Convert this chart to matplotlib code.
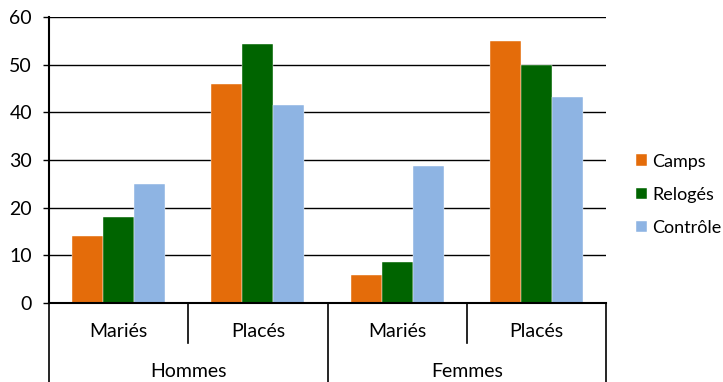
import matplotlib
matplotlib.use("Agg")
import matplotlib.pyplot as plt
import numpy as np

plt.rcParams['font.family'] = ['Lato', 'DejaVu Sans']

groups = ["Hommes", "Femmes"]
subcats = ["Mariés", "Placés", "Mariés", "Placés"]
series = ["Camps", "Relogés", "Contrôle"]
camps = [14, 46, 5.9, 55]
reloges = [18.1, 54.4, 8.7, 49.9]
controle = [24.9, 41.6, 28.7, 43.3]
colors = ["#E46C0A", "#006400", "#8EB4E3"]
yticks = [0, 10, 20, 30, 40, 50, 60]

fig = plt.figure(figsize=(7.23, 3.82), dpi=100)
ax = fig.add_axes([0.0678, 0.2068, 0.7705, 0.7487])

x = np.arange(len(subcats))
bw = 1 / 4.5
for i, (vals, col, name) in enumerate(zip([camps, reloges, controle], colors, series)):
    ax.bar(x + (i - 1) * bw, vals, width=bw, color=col, label=name,
           edgecolor="white", linewidth=0.3, zorder=3)

ax.set_xlim(-0.5, len(subcats) - 0.5)
ax.set_ylim(0, 60)
ax.set_yticks(yticks)
ax.tick_params(axis="y", length=4.3, width=1, pad=8, labelsize=14, direction="out")
ax.tick_params(axis="x", length=0, labelbottom=False)
ax.yaxis.grid(True, color="black", linewidth=1, zorder=0)
for s in ["top", "right"]:
    ax.spines[s].set_visible(False)
ax.spines["left"].set_linewidth(1.5)
ax.spines["bottom"].set_linewidth(1.5)
ax.spines["bottom"].set_zorder(4)

# two-level category axis: separators and labels below the plot
tr = ax.get_xaxis_transform()
inner_bottom = -0.14
outer_bottom = -0.28
for xv in [-0.5, 1.5, 3.5]:
    ax.plot([xv, xv], [0, outer_bottom], transform=tr, color="black",
            linewidth=1.2, clip_on=False)
for xv in [0.5, 2.5]:
    ax.plot([xv, xv], [0, inner_bottom], transform=tr, color="black",
            linewidth=1.2, clip_on=False)
for xi, lab in zip(x, subcats):
    ax.text(xi, -0.1, lab, transform=tr, ha="center", va="center", fontsize=14)
for gi, g in enumerate(groups):
    ax.text(2 * gi + 0.5, -0.24, g, transform=tr, ha="center", va="center", fontsize=14)

leg = fig.legend(loc="center left", bbox_to_anchor=(0.879, 0.49), frameon=False,
                 fontsize=13, handlelength=0.62, handleheight=0.62,
                 handletextpad=0.3, labelspacing=0.95, borderaxespad=0,
                 borderpad=0)

fig.savefig("out.png", dpi=100)
